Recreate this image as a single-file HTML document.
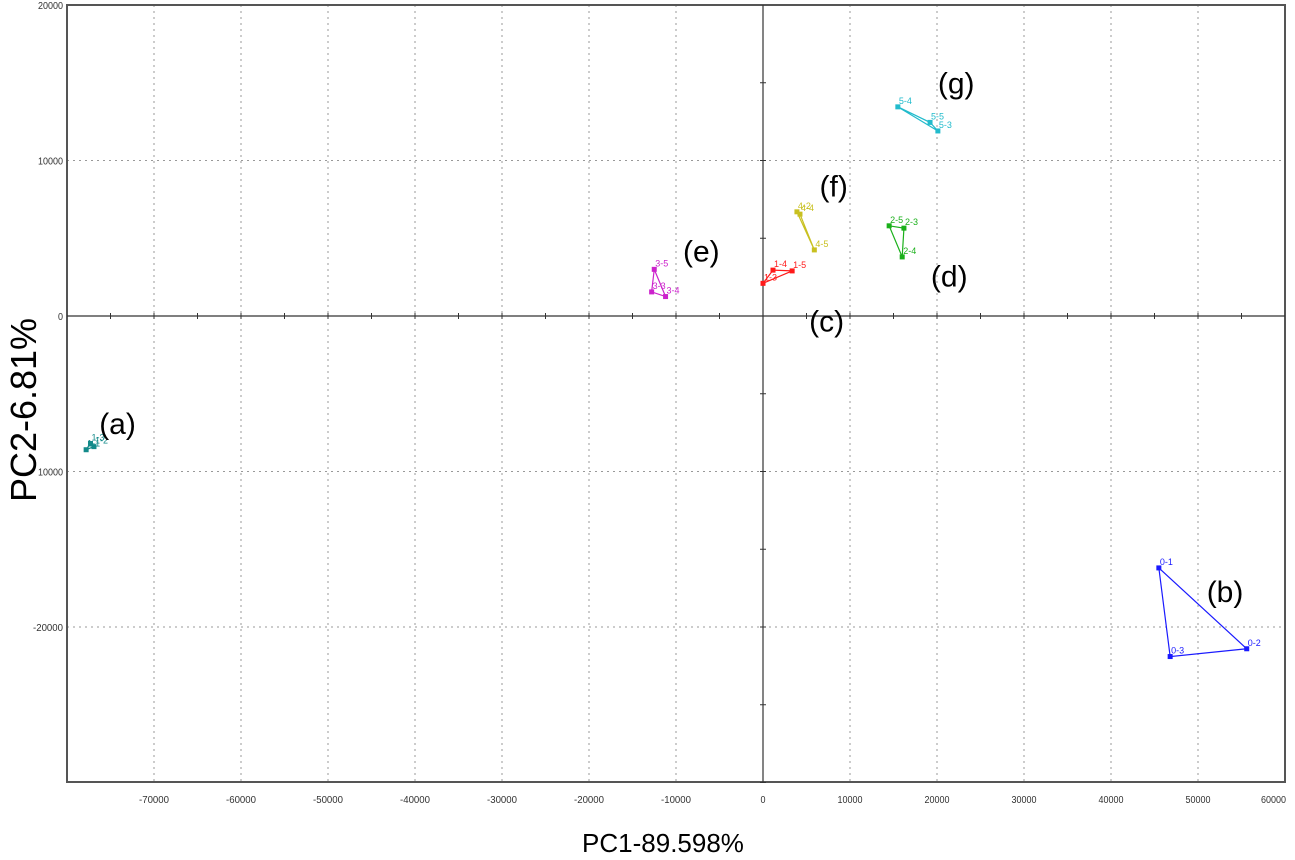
<!DOCTYPE html>
<html><head><meta charset="utf-8"><style>
html,body{margin:0;padding:0;background:#fff;width:1295px;height:860px;overflow:hidden}
svg{display:block;font-family:"Liberation Sans",sans-serif}
</style></head><body>
<svg id="chart" width="1295" height="860">
<g id="grid"></g>
<g id="axes"></g>
<g id="series"></g>
<text x="663" y="852" font-size="26" text-anchor="middle" fill="#000">PC1-89.598%</text>
<text transform="translate(36,410) rotate(-90)" font-size="36" text-anchor="middle" fill="#000">PC2-6.81%</text>
</svg>
<script>
const xTicks=[-70000,-60000,-50000,-40000,-30000,-20000,-10000,0,10000,20000,30000,40000,50000,60000];
const xTickLabels=["-70000","-60000","-50000","-40000","-30000","-20000","-10000","0","10000","20000","30000","40000","50000","60000"];
const yTicks=[20000,10000,0,-10000,-20000];
const yTickLabels=["20000","10000","0","10000","-20000"];
const groupNames=["(a)","(b)","(c)","(d)","(e)","(f)","(g)"];
const groupColors=["#138a8a","#1a1aff","#ff1a1a","#1ab01a","#cc22cc","#c8c020","#22bbcc"];
const pointLabels=[["1-1","1-2","1-3"],["0-1","0-2","0-3"],["1-3","1-4","1-5"],["2-5","2-3","2-4"],["3-5","3-4","3-3"],["4-2","4-4","4-5"],["5-4","5-5","5-3"]];
const pcx=[[-77800,-76900,-77300],[45500,55600,46800],[0,1150,3350],[14500,16200,16000],[-12500,-11200,-12800],[3900,4250,5900],[15500,19200,20100]];
const pcy=[[-8600,-8400,-8200],[-16200,-21400,-21900],[2100,2950,2900],[5800,5650,3800],[3000,1250,1550],[6700,6550,4250],[13450,12450,11900]];
const groupLabelX=[-76300,51000,5300,19300,-9200,6500,20100];
const groupLabelY=[-7600,-18400,-1000,1900,3500,7700,14300];

const NS="http://www.w3.org/2000/svg";
const L=67,R=1285,T=5,B=782,XMIN=-80000,XMAX=60000;
const X=v=>L+(v-XMIN)/(XMAX-XMIN)*(R-L);
const Y=v=>316-v*0.01555;
function mk(tag,attrs,parent,text){const e=document.createElementNS(NS,tag);for(const k in attrs)e.setAttribute(k,attrs[k]);if(text!==undefined)e.textContent=text;parent.appendChild(e);return e;}
const grid=document.getElementById('grid'),axes=document.getElementById('axes'),ser=document.getElementById('series');
xTicks.forEach((t,i)=>{
  if(t!==0&&t<XMAX){const g=mk('line',{x1:X(t),x2:X(t),y1:T,y2:B,stroke:'#999','stroke-dasharray':'2,4','stroke-width':1},grid);
  
  }
  const last=t>=XMAX;
  const tl=mk('text',{x:last?R+1:X(t),y:803,'font-size':10,'text-anchor':last?'end':'middle',fill:'#333',textLength:xTickLabels[i].length*5,lengthAdjust:'spacingAndGlyphs'},axes,xTickLabels[i]);
  
  
});
yTicks.forEach((t,i)=>{
  if(t!==0&&t<20000){const g=mk('line',{x1:L,x2:R,y1:Y(t),y2:Y(t),stroke:'#999','stroke-dasharray':'2,4','stroke-width':1},grid);
  
  }
  const tl=mk('text',{x:63,y:Y(t)+4,'font-size':10,'text-anchor':'end',fill:'#333',textLength:yTickLabels[i].length*5,lengthAdjust:'spacingAndGlyphs'},axes,yTickLabels[i]);
  
  
});
const fr=mk('path',{d:`M${L} ${T}H${R}V${B}H${L}Z`,fill:'none',stroke:'#555','stroke-width':2},axes);


const ax0=mk('line',{x1:L,x2:R,y1:Y(0),y2:Y(0),stroke:'#333','stroke-width':1.2},axes);


const ay0=mk('line',{x1:X(0),x2:X(0),y1:T,y2:B,stroke:'#333','stroke-width':1.2},axes);


for(let v=-75000;v<60000;v+=5000){mk('line',{x1:X(v),x2:X(v),y1:Y(0)-3,y2:Y(0)+3,stroke:'#333'},axes);}
for(let v=-30000;v<20000;v+=5000){mk('line',{x1:X(0)-3,x2:X(0)+3,y1:Y(v),y2:Y(v),stroke:'#333'},axes);}
groupNames.forEach((name,g)=>{
  const c=groupColors[g];
  const pts=pcx[g].map((x,i)=>X(x)+','+Y(pcy[g][i])).join(' ');
  const poly=mk('polygon',{points:pts,fill:'none',stroke:c,'stroke-width':1.2},ser);
  
  
  pcx[g].forEach((x,i)=>{
    const m=mk('rect',{x:X(x)-2.5,y:Y(pcy[g][i])-2.5,width:5,height:5,fill:c},ser);
    
    
    const t=mk('text',{x:X(x)+1,y:Y(pcy[g][i])-3,'font-size':9,fill:c},ser,pointLabels[g][i]);
    
    
  });
  const gl=mk('text',{x:X(groupLabelX[g]),y:Y(groupLabelY[g]),'font-size':30,fill:'#000'},ser,name);
  
  
});
</script>
</body></html>
